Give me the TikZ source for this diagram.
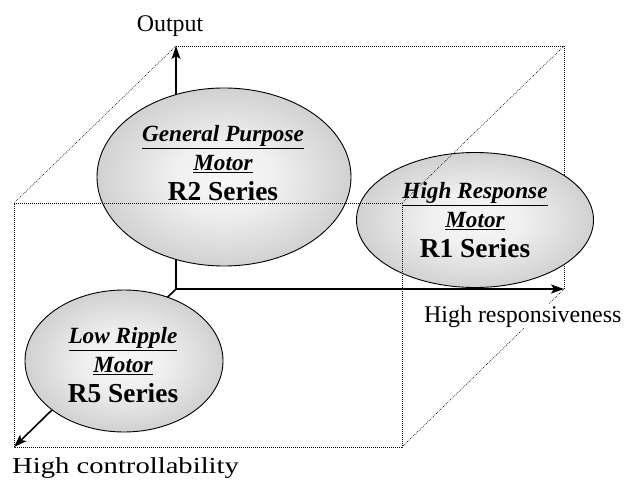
\documentclass[tikz,border=0pt]{standalone}
\usepackage{fontspec}
\setmainfont{Liberation Serif}
\newfontfamily\widefont[FakeStretch=1.25]{Liberation Serif}
\usetikzlibrary{arrows.meta,shapes.geometric}
\pgfdeclareradialshading{motorshade}{\pgfpoint{0bp}{0bp}}{color(0bp)=(white!97!black); color(10bp)=(white!94!black); color(50bp)=(black!38); color(72bp)=(black!38)}

\begin{document}
\begin{tikzpicture}[x=1bp, y=-1bp,
    axis/.style={line width=1.6bp, -{Stealth[length=13bp, width=9bp, inset=3bp]}},
    edge/.style={line width=0.6bp, dash pattern=on 0.8bp off 1.2bp},
    motor/.style={ellipse, draw, line width=0.9bp, shading=motorshade, inner sep=0pt},
    motortext/.style={align=center, inner sep=0pt,
      font=\fontsize{23.3}{29.5}\selectfont\bfseries\itshape},
    axislabel/.style={font=\fontsize{24}{26}\selectfont, inner sep=0pt}]
    \useasboundingbox (0,0) rectangle (628,480);

    % Wuerfel (hinten)
    \coordinate (btl) at (176,46);
    \coordinate (btr) at (564,46);
    \coordinate (bbr) at (564,289);
    \coordinate (o) at (176,289);
    \coordinate (ftl) at (14,203);
    \coordinate (ftr) at (402,203);
    \coordinate (fbr) at (402,447);
    \coordinate (fbl) at (14,447);
    \draw[edge] (btl) -- (btr) -- (bbr);

    % Achsen
    \draw[axis] (o) -- (btl);
    \draw[axis] (o) -- (bbr);
    \draw[axis] (o) -- (fbl);

    % Motoren
    \node[motor, minimum width=254bp, minimum height=178bp] (r2) at (224,177) {};
    \node[motor, minimum width=237bp, minimum height=135bp] (r1) at (475,220) {};
    \node[motor, minimum width=198bp, minimum height=142bp] (r5) at (124,361) {};
    \node[motortext] (r2txt) at (223,163)
      {\underline{General Purpose}\\ \underline{Motor}\\ {\fontsize{27.5}{29.5}\selectfont\upshape R2 Series}};
    \node[motortext] (r1txt) at (475,220)
      {\underline{High Response}\\ \underline{Motor}\\ {\fontsize{27.5}{29.5}\selectfont\upshape R1 Series}};
    \node[motortext] (r5txt) at (123,365)
      {\underline{Low Ripple}\\ \underline{Motor}\\ {\fontsize{27.5}{29.5}\selectfont\upshape R5 Series}};

    % Wuerfel (vorne)
    \draw[edge] (ftl) -- (ftr) -- (fbr) -- (fbl) -- cycle;
    \draw[edge] (btl) -- (ftl);
    \draw[edge] (btr) -- (ftr);
    \draw[edge] (bbr) -- (fbr);

    % Beschriftungen
    \node[axislabel, anchor=base] (outlbl) at (170,32) {Output};
    \node[axislabel, fill=white, inner sep=1bp, anchor=base west] (resplbl) at (423,322) {High responsiveness};
    \node[axislabel, anchor=base west] (ctrllbl) at (12,473) {\widefont\fontsize{23}{26}\selectfont High controllability};
\end{tikzpicture}
\end{document}
